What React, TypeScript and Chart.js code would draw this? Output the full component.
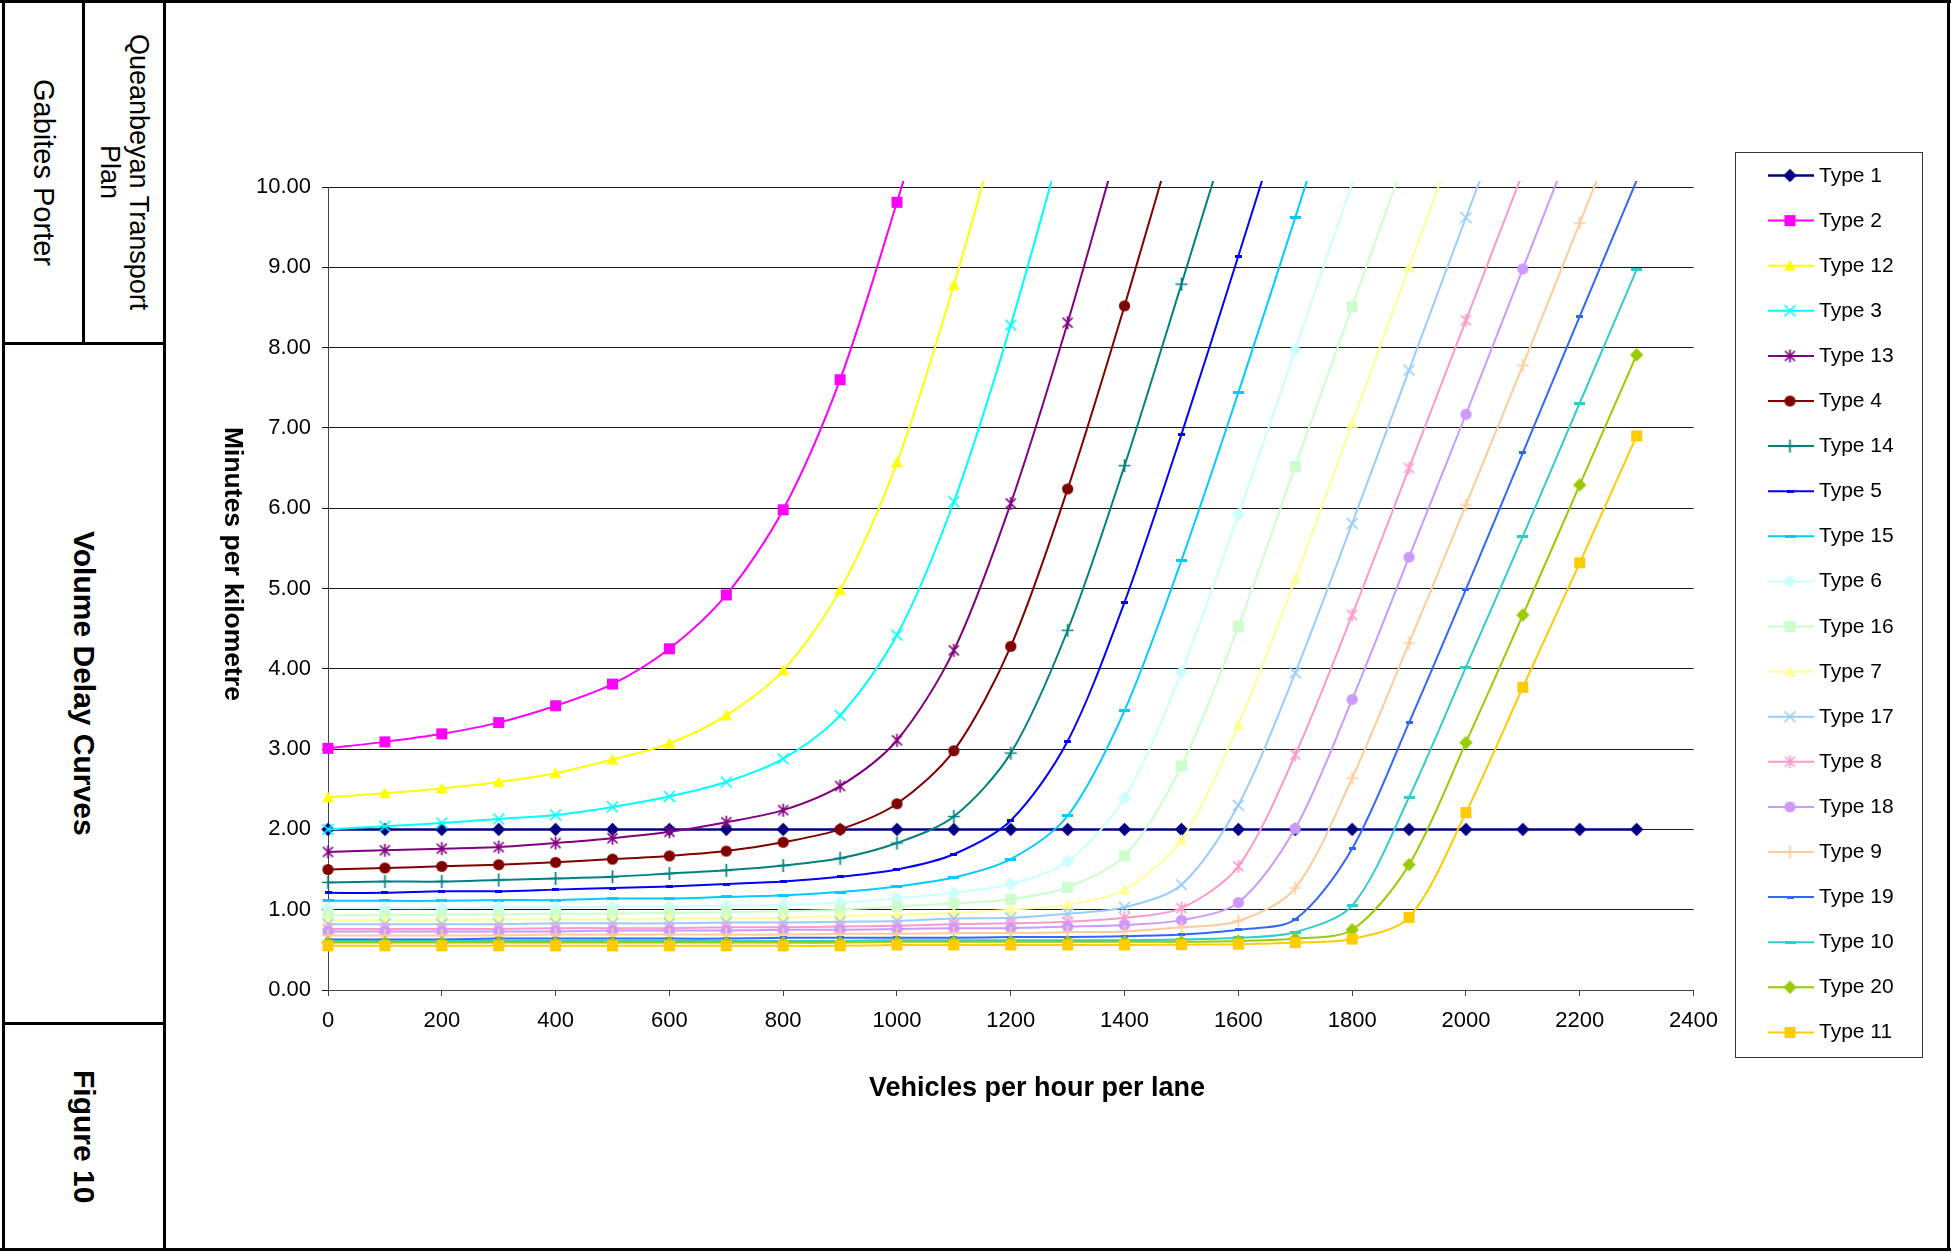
import React, { useEffect, useRef } from "react";
import { Chart, registerables } from "chart.js";

Chart.register(...registerables);

const FONT = '"Liberation Sans", Arial, Helvetica, sans-serif';

// Vehicles per hour per lane (x values of the data points)
const volumes = [0, 100, 200, 300, 400, 500, 600, 700, 800, 900, 1000, 1100, 1200, 1300, 1400, 1500, 1600, 1700, 1800, 1900, 2000, 2100, 2200, 2300];

// Minutes per kilometre (last value of a steep curve lies just above the plotted range)
const type1 = [2.0, 2.0, 2.0, 2.0, 2.0, 2.0, 2.0, 2.0, 2.0, 2.0, 2.0, 2.0, 2.0, 2.0, 2.0, 2.0, 2.0, 2.0, 2.0, 2.0, 2.0, 2.0, 2.0, 2.0];
const type2 = [3.01, 3.09, 3.19, 3.33, 3.54, 3.81, 4.25, 4.92, 5.98, 7.6, 9.81, 12.2];
const type12 = [2.4, 2.45, 2.51, 2.59, 2.7, 2.87, 3.07, 3.42, 3.98, 4.98, 6.57, 8.78, 11.3];
const type3 = [2.0, 2.04, 2.08, 2.13, 2.18, 2.28, 2.41, 2.59, 2.88, 3.42, 4.42, 6.08, 8.28, 10.8];
const type13 = [1.72, 1.74, 1.76, 1.78, 1.83, 1.89, 1.97, 2.09, 2.24, 2.54, 3.11, 4.23, 6.06, 8.31, 10.8];
const type4 = [1.5, 1.52, 1.54, 1.56, 1.59, 1.63, 1.67, 1.73, 1.84, 2.0, 2.32, 2.98, 4.28, 6.24, 8.52, 10.95];
const type14 = [1.34, 1.35, 1.35, 1.37, 1.39, 1.41, 1.45, 1.49, 1.55, 1.64, 1.83, 2.16, 2.95, 4.48, 6.53, 8.79, 11.1];
const type5 = [1.21, 1.21, 1.23, 1.23, 1.25, 1.27, 1.29, 1.32, 1.35, 1.41, 1.5, 1.69, 2.11, 3.1, 4.83, 6.92, 9.14, 11.4];
const type15 = [1.11, 1.11, 1.11, 1.12, 1.12, 1.14, 1.14, 1.16, 1.18, 1.22, 1.29, 1.4, 1.63, 2.17, 3.48, 5.35, 7.44, 9.62, 11.85];
const type6 = [1.02, 1.02, 1.02, 1.03, 1.03, 1.04, 1.04, 1.05, 1.06, 1.09, 1.14, 1.21, 1.32, 1.6, 2.39, 3.96, 5.92, 7.97, 10.05, 12.1];
const type16 = [0.93, 0.93, 0.94, 0.94, 0.95, 0.95, 0.96, 0.97, 0.98, 1.0, 1.04, 1.08, 1.13, 1.28, 1.67, 2.79, 4.53, 6.52, 8.51, 10.5];
const type7 = [0.87, 0.87, 0.87, 0.88, 0.88, 0.88, 0.89, 0.89, 0.9, 0.92, 0.94, 0.96, 1.0, 1.06, 1.25, 1.87, 3.3, 5.12, 7.06, 9.0, 10.94];
const type17 = [0.82, 0.82, 0.82, 0.82, 0.83, 0.83, 0.83, 0.84, 0.84, 0.85, 0.86, 0.89, 0.9, 0.95, 1.03, 1.31, 2.3, 3.95, 5.81, 7.72, 9.62, 11.5];
const type8 = [0.76, 0.76, 0.76, 0.76, 0.77, 0.77, 0.77, 0.78, 0.78, 0.79, 0.8, 0.82, 0.83, 0.85, 0.9, 1.02, 1.54, 2.93, 4.67, 6.5, 8.34, 10.18];
const type18 = [0.73, 0.73, 0.73, 0.73, 0.73, 0.74, 0.74, 0.74, 0.75, 0.75, 0.76, 0.77, 0.77, 0.79, 0.81, 0.87, 1.09, 2.01, 3.62, 5.39, 7.17, 8.98, 10.8];
const type9 = [0.68, 0.68, 0.68, 0.68, 0.69, 0.69, 0.69, 0.69, 0.69, 0.7, 0.7, 0.71, 0.71, 0.72, 0.73, 0.78, 0.86, 1.27, 2.64, 4.32, 6.04, 7.78, 9.55, 11.33];
const type19 = [0.63, 0.63, 0.63, 0.64, 0.64, 0.64, 0.64, 0.64, 0.65, 0.65, 0.65, 0.65, 0.66, 0.66, 0.67, 0.69, 0.75, 0.88, 1.76, 3.33, 4.99, 6.69, 8.39, 10.08];
const type10 = [0.61, 0.61, 0.61, 0.61, 0.61, 0.61, 0.61, 0.61, 0.61, 0.61, 0.62, 0.62, 0.62, 0.62, 0.62, 0.63, 0.65, 0.72, 1.05, 2.4, 4.02, 5.65, 7.31, 8.97];
const type20 = [0.59, 0.59, 0.59, 0.59, 0.59, 0.59, 0.59, 0.59, 0.59, 0.59, 0.6, 0.6, 0.6, 0.6, 0.6, 0.6, 0.61, 0.64, 0.75, 1.56, 3.08, 4.67, 6.29, 7.91];
const type11 = [0.55, 0.55, 0.55, 0.55, 0.55, 0.55, 0.55, 0.55, 0.55, 0.55, 0.56, 0.56, 0.56, 0.56, 0.56, 0.565, 0.57, 0.59, 0.635, 0.905, 2.21, 3.77, 5.32, 6.9];

const seriesNames = ["Type 1", "Type 2", "Type 12", "Type 3", "Type 13", "Type 4", "Type 14", "Type 5", "Type 15", "Type 6", "Type 16", "Type 7", "Type 17", "Type 8", "Type 18", "Type 9", "Type 19", "Type 10", "Type 20", "Type 11"];
const seriesValues = [type1, type2, type12, type3, type13, type4, type14, type5, type15, type6, type16, type7, type17, type8, type18, type9, type19, type10, type20, type11];

const yTicks = [0, 1, 2, 3, 4, 5, 6, 7, 8, 9, 10];
const xTicks = [0, 200, 400, 600, 800, 1000, 1200, 1400, 1600, 1800, 2000, 2200, 2400];

// Styles
const seriesColors = ["#000080", "#FF00FF", "#FFFF00", "#00FFFF", "#800080", "#800000", "#008080", "#0000FF", "#00CCFF", "#CCFFFF", "#CCFFCC", "#FFFF99", "#99CCFF", "#FF99CC", "#CC99FF", "#FFCC99", "#3366FF", "#33CCCC", "#99CC00", "#FFCC00"];
const seriesMarkers = ["diamond", "square", "triangle", "x", "star", "circle", "plus", "dashS", "dashL", "diamond", "square", "triangle", "x", "star", "circle", "plus", "dashS", "dashL", "diamond", "square"];

function makeMarker(kind: string, color: string): HTMLCanvasElement {
  const c = document.createElement("canvas");
  let w = 15, h = 15;
  if (kind === "dashS") { w = 7; h = 3; }
  if (kind === "dashL") { w = 11; h = 3; }
  c.width = w; c.height = h;
  const ctx = c.getContext("2d")!;
  ctx.fillStyle = color;
  ctx.strokeStyle = color;
  ctx.lineWidth = 1.7;
  ctx.beginPath();
  switch (kind) {
    case "diamond":
      ctx.moveTo(7.5, 0.8); ctx.lineTo(14.2, 7.5); ctx.lineTo(7.5, 14.2); ctx.lineTo(0.8, 7.5); ctx.closePath(); ctx.fill();
      break;
    case "square":
      ctx.fillRect(2, 2, 11, 11);
      break;
    case "triangle":
      ctx.moveTo(7.5, 1.5); ctx.lineTo(13.5, 12.5); ctx.lineTo(1.5, 12.5); ctx.closePath(); ctx.fill();
      break;
    case "x":
      ctx.moveTo(2, 2); ctx.lineTo(13, 13); ctx.moveTo(13, 2); ctx.lineTo(2, 13); ctx.stroke();
      break;
    case "star":
      ctx.moveTo(2.5, 2.5); ctx.lineTo(12.5, 12.5); ctx.moveTo(12.5, 2.5); ctx.lineTo(2.5, 12.5);
      ctx.moveTo(7.5, 1); ctx.lineTo(7.5, 14); ctx.stroke();
      break;
    case "circle":
      ctx.arc(7.5, 7.5, 5.6, 0, Math.PI * 2); ctx.fill();
      break;
    case "plus":
      ctx.moveTo(7.5, 1); ctx.lineTo(7.5, 14); ctx.moveTo(1.5, 7.5); ctx.lineTo(13.5, 7.5); ctx.stroke();
      break;
    default:
      ctx.fillRect(0, 0, w, h);
  }
  return c;
}

const Bar = ({ x, y, w, h }: { x: number; y: number; w: number; h: number }) => (
  <div style={{ position: "absolute", left: x, top: y, width: w, height: h, background: "#000" }} />
);

const CANVAS_LEFT = 168;
const CANVAS_TOP = 4;
const LEG_X = 1735, LEG_Y = 152, LEG_W = 188, LEG_H = 906;
const LEG_ROW0 = 175.5, LEG_STEP = 45.1;

export default function App() {
  const chartRef = useRef<HTMLCanvasElement>(null);
  const legendRef = useRef<HTMLCanvasElement>(null);

  useEffect(() => {
    const markers = seriesMarkers.map((m, i) => makeMarker(m, seriesColors[i]));
    const n = seriesNames.length;
    const datasets = seriesNames.map((name, i) => ({
      label: name,
      data: seriesValues[i].map((v, j) => ({ x: volumes[j], y: v })),
      borderColor: seriesColors[i],
      backgroundColor: seriesColors[i],
      borderWidth: i === 0 ? 2.5 : 2,
      pointStyle: markers[i] as any,
      pointRadius: (ctx: any) => (ctx.raw && ctx.raw.y > 10 ? 0 : 5),
      pointHoverRadius: 0,
      fill: false,
      tension: 0.3,
      capBezierPoints: false,
      clip: { left: 10, top: 6, right: 10, bottom: 10 },
      order: n - i,
    }));

    const chart = new Chart(chartRef.current!, {
      type: "line",
      data: { datasets },
      options: {
        animation: false,
        responsive: false,
        events: [],
        layout: { padding: { left: 40, top: 183, right: 36, bottom: 200 } },
        plugins: { legend: { display: false }, tooltip: { enabled: false } },
        scales: {
          x: {
            type: "linear",
            min: 0,
            max: 2400,
            afterBuildTicks: (s: any) => { s.ticks = xTicks.map((v) => ({ value: v })); },
            afterFit: (s: any) => { s.height = 54; },
            ticks: { font: { size: 22, family: FONT }, color: "#000", padding: 12, maxRotation: 0, autoSkip: false, callback: (v: any) => String(v) },
            grid: { display: true, drawOnChartArea: false, drawTicks: true, tickLength: 6, color: "#444", lineWidth: 1 },
            border: { display: true, color: "#444", width: 1 },
          },
          y: {
            min: 0,
            max: 10,
            afterBuildTicks: (s: any) => { s.ticks = yTicks.map((v) => ({ value: v })); },
            afterFit: (s: any) => { s.width = 120; },
            ticks: { font: { size: 22, family: FONT }, color: "#000", padding: 11, callback: (v: any) => Number(v).toFixed(2) },
            grid: { color: "#1a1a1a", lineWidth: 1, drawTicks: true, tickLength: 6 },
            border: { display: true, color: "#444", width: 1 },
          },
        },
      } as any,
    });

    // Legend swatches
    const lc = legendRef.current!;
    const lctx = lc.getContext("2d")!;
    lctx.clearRect(0, 0, lc.width, lc.height);
    seriesNames.forEach((_, i) => {
      const cy = LEG_ROW0 + LEG_STEP * i - LEG_Y;
      lctx.strokeStyle = seriesColors[i];
      lctx.lineWidth = i === 0 ? 2.5 : 2;
      lctx.beginPath();
      lctx.moveTo(1768 - LEG_X, cy);
      lctx.lineTo(1814 - LEG_X, cy);
      lctx.stroke();
      const m = markers[i];
      lctx.drawImage(m, 1790 - LEG_X - m.width / 2, cy - m.height / 2);
    });

    return () => chart.destroy();
  }, []);

  const cellText = (text: React.ReactNode, x: number, y: number, w: number, h: number, style: React.CSSProperties) => (
    <div style={{ position: "absolute", left: x, top: y, width: w, height: h, display: "flex", alignItems: "center", justifyContent: "center" }}>
      <div style={{ writingMode: "vertical-rl", textAlign: "center", whiteSpace: "nowrap", ...style }}>{text}</div>
    </div>
  );

  return (
    <div style={{ position: "absolute", left: 0, top: 0, width: 1955, height: 1252, background: "#fff", overflow: "hidden", fontFamily: FONT, color: "#000" }}>
      <canvas ref={chartRef} width={1562} height={1240} style={{ position: "absolute", left: CANVAS_LEFT, top: CANVAS_TOP, width: 1562, height: 1240 }} />

      {/* Frame */}
      <Bar x={0} y={0} w={1951} h={3} />
      <Bar x={0} y={1248} w={1951} h={3} />
      <Bar x={2} y={0} w={3} h={1251} />
      <Bar x={1947} y={0} w={3} h={1251} />
      <Bar x={163} y={0} w={3} h={1251} />
      <Bar x={82} y={0} w={3} h={344} />
      <Bar x={2} y={342} w={164} h={3} />
      <Bar x={2} y={1022} w={164} h={3} />

      {cellText("Gabites Porter", 5, 3, 77, 339, { fontSize: 29, lineHeight: "30px" })}
      {cellText(<>Queanbeyan Transport<br />Plan</>, 85, 3, 78, 339, { fontSize: 27, lineHeight: "29px" })}
      {cellText("Volume Delay Curves", 5, 345, 158, 677, { fontSize: 30, fontWeight: "bold", lineHeight: "32px" })}
      {cellText("Figure 10", 5, 1025, 158, 223, { fontSize: 30, fontWeight: "bold", lineHeight: "32px" })}

      {/* Axis titles */}
      <div style={{ position: "absolute", left: 737, top: 1070, width: 600, textAlign: "center", fontSize: 27, fontWeight: "bold", lineHeight: "34px" }}>Vehicles per hour per lane</div>
      {cellText("Minutes per kilometre", 214, 264, 40, 600, { fontSize: 26.5, fontWeight: "bold", lineHeight: "30px" })}

      {/* Legend */}
      <div style={{ position: "absolute", left: LEG_X, top: LEG_Y, width: LEG_W - 2, height: LEG_H - 2, border: "1px solid #333" }} />
      <canvas ref={legendRef} width={LEG_W} height={LEG_H} style={{ position: "absolute", left: LEG_X, top: LEG_Y, width: LEG_W, height: LEG_H }} />
      {seriesNames.map((name, i) => (
        <div key={name} style={{ position: "absolute", left: 1819, top: LEG_ROW0 + LEG_STEP * i - 14, height: 26, lineHeight: "26px", fontSize: 21, whiteSpace: "nowrap" }}>{name}</div>
      ))}
    </div>
  );
}
